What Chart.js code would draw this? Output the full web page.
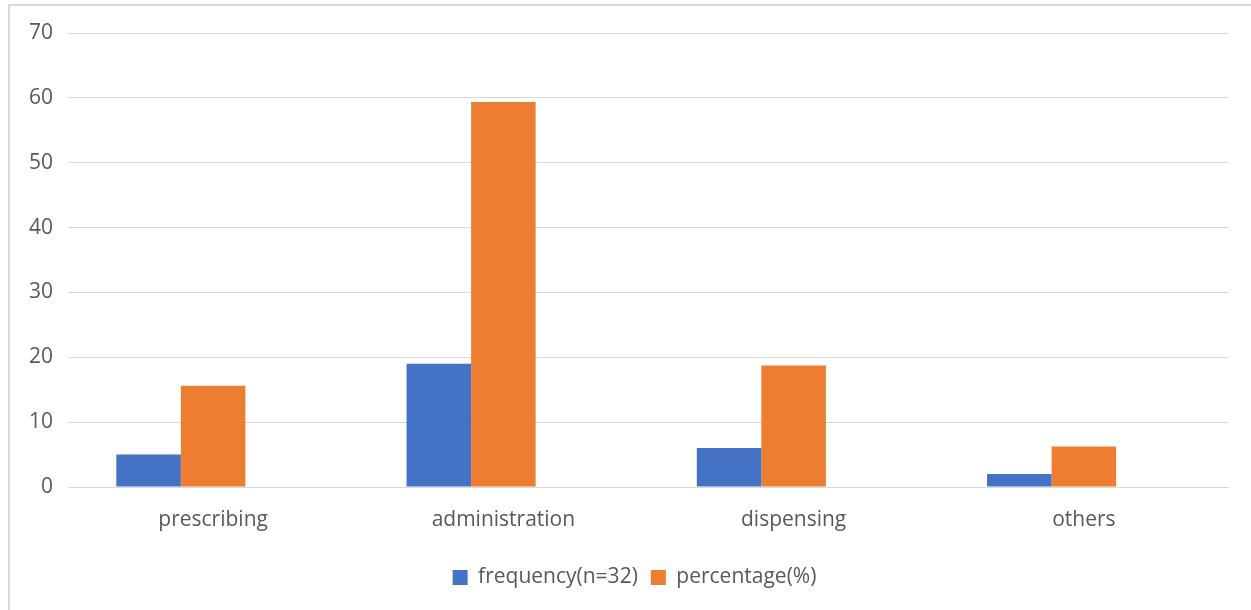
<!DOCTYPE html>
<html>
<head>
<meta charset="utf-8">
<script src="https://cdn.jsdelivr.net/npm/chart.js@4/dist/chart.umd.min.js"></script>
<style>
  html, body { margin: 0; padding: 0; background: #fff; }
  #wrap { position: relative; width: 1251px; height: 610px; overflow: hidden; }
  #frame { position: absolute; left: 8px; top: 4px; width: 1260px; height: 620px;
           border-left: 2px solid #d9d9d9; border-top: 2px solid #d9d9d9; box-sizing: border-box; }
  canvas { position: absolute; left: 0; top: 0; }
</style>
</head>
<body>
<div id="wrap">
  <div id="frame"></div>
  <canvas id="chart" width="1251" height="610"></canvas>
</div>
<script>
const categories = ['prescribing', 'administration', 'dispensing', 'others'];
const frequency = [5, 19, 6, 2];
const percentage = [15.625, 59.375, 18.75, 6.25];
const spacer = [null, null, null, null];
const yTicks = [0, 10, 20, 30, 40, 50, 60, 70];

const FONT = "'Open Sans', 'Noto Sans', sans-serif";
const TEXT = '#595959';

// nudges the legend row to the right of the plot centre
const legendShift = {
  id: 'legendShift',
  afterLayout(chart) {
    const lg = chart.legend;
    if (lg) { lg.left += 20; lg.right += 20; }
  }
};

new Chart(document.getElementById('chart'), {
  type: 'bar',
  data: {
    labels: categories,
    datasets: [
      { label: 'frequency(n=32)', data: frequency, backgroundColor: '#4472C4' },
      { label: 'percentage(%)', data: percentage, backgroundColor: '#ED7D31' },
      // empty third slot keeps the pair left of each category label
      { label: '', data: spacer, backgroundColor: 'rgba(0,0,0,0)' }
    ]
  },
  options: {
    responsive: false,
    animation: false,
    events: [],
    layout: { padding: { left: 0, right: 22, top: 33, bottom: 12 } },
    datasets: { bar: { categoryPercentage: 0.667, barPercentage: 1.0, borderWidth: 0 } },
    scales: {
      x: {
        grid: { display: false, drawTicks: false },
        border: { display: false },
        ticks: { color: TEXT, font: { family: FONT, size: 21 }, padding: 20, maxRotation: 0 },
        afterFit: s => { s.height = 67; }
      },
      y: {
        min: 0, max: 70,
        afterBuildTicks: s => { s.ticks = yTicks.map(v => ({ value: v })); },
        grid: { color: '#d9d9d9', lineWidth: 1, drawTicks: false },
        border: { display: false },
        ticks: { color: TEXT, font: { family: FONT, size: 21 }, padding: 15 },
        afterFit: s => { s.width = 68; }
      }
    },
    plugins: {
      legend: {
        position: 'bottom',
        labels: {
          color: TEXT, font: { family: FONT, size: 21 }, boxWidth: 15, boxHeight: 15, padding: 13,
          filter: item => item.text !== ''
        }
      },
      tooltip: { enabled: false }
    }
  },
  plugins: [legendShift]
});
</script>
</body>
</html>
